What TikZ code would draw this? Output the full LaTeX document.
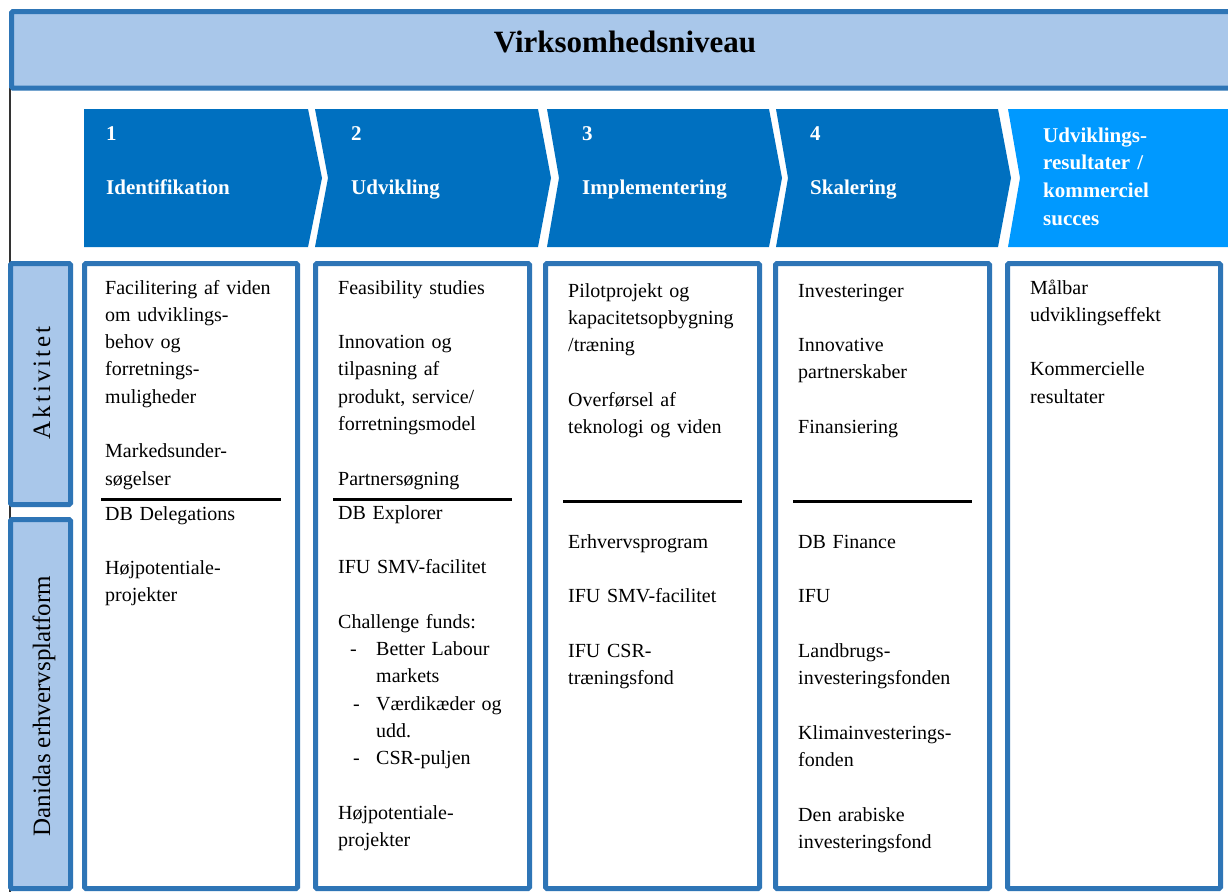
\documentclass[tikz,border=0pt]{standalone}
\usepackage{fontspec}
\setmainfont{Liberation Serif}
\newfontfamily\spacedfont[LetterSpace=12]{Liberation Serif}
\definecolor{bordblue}{RGB}{46,117,182}
\definecolor{lightfill}{RGB}{169,199,234}
\definecolor{chevdark}{RGB}{0,112,192}
\definecolor{chevlight}{RGB}{0,153,255}
\newcommand\dashitem[2]{\makebox[38pt][l]{\hspace*{#1}-}#2}
\newcommand\contitem[1]{\hspace*{38pt}#1}
\begin{document}
\begin{tikzpicture}[x=1pt,y=-1pt,
  box/.style={draw=bordblue, line width=5pt, rounded corners=1.5pt},
  body/.style={anchor=base west, inner sep=0pt, align=left, text width=205pt,
    font=\fontsize{20}{27.3}\selectfont},
  chevtext/.style={anchor=base west, inner sep=0pt, text=white, align=left,
    text width=185pt, font=\bfseries\fontsize{21}{27}\selectfont},
  sepline/.style={line width=3pt, black},
  sidelabel/.style={rotate=90, anchor=base, inner sep=0pt,
    font=\fontsize{25}{30}\selectfont}]
\useasboundingbox (0,0) rectangle (1228,892);
\fill[white] (0,0) rectangle (1228,892);
% thin left line
\draw[line width=1.2pt, black!80] (10,88) -- (10,892);
% banner
\draw[box, fill=lightfill] (11.5,11.5) rectangle (1250,88);
\node[anchor=base, inner sep=0pt, font=\bfseries\fontsize{31}{36}\selectfont] (title) at (625,52) {Virksomhedsniveau};
% chevrons
\fill[chevdark] (84,109) -- (308,109) -- (322,178) -- (308,247) -- (84,247) -- cycle;
\fill[chevdark] (315,109) -- (538,109) -- (551,178) -- (538,247) -- (315,247) -- (328,178) -- cycle;
\fill[chevdark] (547,109) -- (769,109) -- (782,178) -- (769,247) -- (547,247) -- (559,178) -- cycle;
\fill[chevdark] (776,109) -- (998,109) -- (1011,178) -- (998,247) -- (776,247) -- (788,178) -- cycle;
\fill[chevlight] (1008,109) -- (1250,109) -- (1250,247) -- (1008,247) -- (1020,178) -- cycle;
\node[chevtext] (c1) at (106,140) {1\\[27pt]Identifikation};
\node[chevtext] (c2) at (351,140) {2\\[27pt]Udvikling};
\node[chevtext] (c3) at (582,140) {3\\[27pt]Implementering};
\node[chevtext] (c4) at (810,140) {4\\[27pt]Skalering};
\node[chevtext, font=\bfseries\fontsize{21}{27.7}\selectfont] (c5) at (1043,142) {Udviklings-\\resultater /\\kommerciel\\succes};
% side boxes
\draw[box, fill=lightfill] (10.5,263.5) rectangle (70.5,504.5);
\draw[box, fill=lightfill] (10.5,519.5) rectangle (70.5,888.5);
\node[sidelabel] (akt) at (50,383) {\spacedfont Aktivitet};
\node[sidelabel] (dan) at (50,706) {Danidas erhvervsplatform};
% content boxes
\draw[box, fill=white] (84.5,263.5) rectangle (297.5,888.5);
\draw[box, fill=white] (315.5,263.5) rectangle (529.5,888.5);
\draw[box, fill=white] (545.5,263.5) rectangle (759.5,888.5);
\draw[box, fill=white] (775.5,263.5) rectangle (989.5,888.5);
\draw[box, fill=white] (1007.5,263.5) rectangle (1220.5,888.5);
% separators
\draw[sepline] (101,499) -- (281,499);
\draw[sepline] (333,499) -- (512,499);
\draw[sepline] (563,501) -- (742,501);
\draw[sepline] (793,501) -- (972,501);
% column 1
\node[body] (t1a) at (105,294) {Facilitering af viden\\om udviklings-\\behov og\\forretnings-\\muligheder\\[27.3pt]Markedsunder-\\søgelser};
\node[body] (t1b) at (105,520) {DB Delegations\\[27.3pt]Højpotentiale-\\projekter};
% column 2
\node[body] (t2a) at (338,294) {Feasibility studies\\[27.3pt]Innovation og\\tilpasning af\\produkt, service/\\forretningsmodel\\[27.3pt]Partnersøgning};
\node[body] (t2b) at (338,519) {DB Explorer\\[27.3pt]IFU SMV-facilitet\\[27.3pt]Challenge funds:\\\dashitem{12pt}{Better Labour}\\\contitem{markets}\\\dashitem{15pt}{Værdikæder og}\\\contitem{udd.}\\\dashitem{15pt}{CSR-puljen}\\[27.3pt]Højpotentiale-\\projekter};
% column 3
\node[body] (t3a) at (568,297) {Pilotprojekt og\\kapacitetsopbygning\\/træning\\[27.3pt]Overførsel af\\teknologi og viden};
\node[body] (t3b) at (568,548) {Erhvervsprogram\\[27.3pt]IFU SMV-facilitet\\[27.3pt]IFU CSR-\\træningsfond};
% column 4
\node[body] (t4a) at (798,297) {Investeringer\\[27.3pt]Innovative\\partnerskaber\\[27.3pt]Finansiering};
\node[body] (t4b) at (798,548) {DB Finance\\[27.3pt]IFU\\[27.3pt]Landbrugs-\\investeringsfonden\\[27.3pt]Klimainvesterings-\\fonden\\[27.3pt]Den arabiske\\investeringsfond};
% column 5
\node[body] (t5a) at (1030,294) {Målbar\\udviklingseffekt\\[27.3pt]Kommercielle\\resultater};
\end{tikzpicture}
\end{document}
